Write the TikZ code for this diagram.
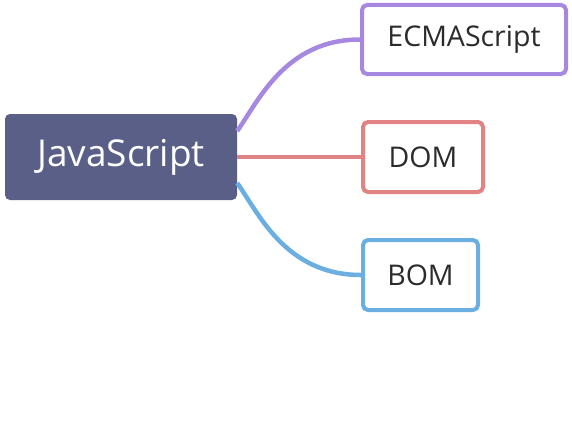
\documentclass[tikz,border=0pt]{standalone}
\usepackage{fontspec}
\setmainfont{Open Sans}
\definecolor{mainfill}{HTML}{5A5F87}
\definecolor{cpurple}{HTML}{A688E0}
\definecolor{cred}{HTML}{E28383}
\definecolor{cblue}{HTML}{6AAEE2}
\definecolor{ctext}{HTML}{2B2B2B}
\begin{document}
\begin{tikzpicture}[x=1pt,y=-1pt,
  rootbox/.style={fill=mainfill, rounded corners=5pt, minimum width=232pt, minimum height=86pt, inner sep=0pt, text=white, font=\fontsize{37}{40}\selectfont},
  childbox/.style={draw, fill=white, line width=4pt, rounded corners=5pt, minimum height=70pt, inner sep=0pt, text=ctext, font=\fontsize{28.5}{32}\selectfont},
  link/.style={line width=4.5pt}]
\useasboundingbox (0,0) rectangle (572,444);
\node[rootbox] (root) at (121,157) {JavaScript};
\node[childbox, draw=cpurple, minimum width=204pt, minimum height=69pt] (ecma) at (464,39.5) {ECMAScript};
\node[childbox, draw=cred, minimum width=120pt] (dom) at (423,157) {DOM};
\node[childbox, draw=cblue, minimum width=115pt] (bom) at (420.5,275) {BOM};
\coordinate (r1) at ([yshift=26pt]root.east);
\coordinate (r3) at ([yshift=-26pt]root.east);
\draw[link, cpurple] (r1) .. controls (258,102) and (285,39.5) .. (ecma.west);
\draw[link, cred] (root.east) -- (dom.west);
\draw[link, cblue] (r3) .. controls (258,212) and (285,275) .. (bom.west);
\end{tikzpicture}
\end{document}
